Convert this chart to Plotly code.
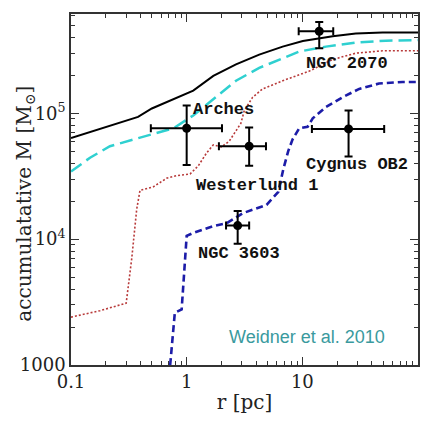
import numpy as np
import plotly.graph_objects as go

# Cumulative mass profiles M(<r) for the model clusters
r_solid = [0.1, 0.38, 0.50, 0.77, 1.14, 1.70, 2.67, 4.24, 6.76, 10.1, 18.3, 29, 49.4, 100]
m_solid = [6.35e4, 9.35e4, 1.09e5, 1.30e5, 1.51e5, 1.98e5, 2.44e5, 2.92e5, 3.38e5, 3.74e5, 4.09e5, 4.30e5, 4.37e5, 4.37e5]

r_cyan = [0.1, 0.146, 0.217, 0.345, 0.55, 0.77, 1.14, 1.70, 2.67, 4.24, 6.76, 9.4, 16, 29, 52.8, 100]
m_cyan = [3.44e4, 4.43e4, 5.47e4, 6.17e4, 7.03e4, 7.6e4, 9.6e4, 1.30e5, 1.81e5, 2.29e5, 2.74e5, 3.09e5, 3.38e5, 3.64e5, 3.77e5, 3.81e5]

r_dot = [0.1, 0.178, 0.30, 0.335, 0.37, 0.395, 0.514, 0.67, 0.82, 1.07, 1.26, 1.49, 1.70,
         2.0, 2.33, 2.94, 3.15, 3.72, 4.54, 6.76, 11.5, 18.3, 29, 49.4, 100]
m_dot = [2.4e3, 2.7e3, 3.1e3, 7.0e3, 1.73e4, 2.44e4, 2.6e4, 3.04e4, 3.19e4, 3.29e4, 3.82e4, 4.85e4, 5.6e4,
         5.4e4, 5.98e4, 8.3e4, 1.05e5, 1.34e5, 1.56e5, 1.81e5, 2.16e5, 2.67e5, 3.0e5, 3.13e5, 3.13e5]

r_blue = [0.72, 0.79, 0.905, 1.0, 1.14, 1.70, 2.22, 3.08, 4.91, 6.2, 6.85, 7.55, 8.24, 9.4, 11.1,
          12.3, 16, 22.3, 31, 46, 73.6, 96]
m_blue = [1.0e3, 2.6e3, 2.76e3, 1.06e4, 1.12e4, 1.27e4, 1.34e4, 1.61e4, 1.87e4, 2.37e4, 3.6e4, 5.0e4, 6.2e4, 7.6e4, 7.8e4,
          9.1e4, 1.12e5, 1.34e5, 1.56e5, 1.72e5, 1.77e5, 1.77e5]

# Observed young massive clusters with their ranges
clusters = ["NGC 2070", "Arches", "Westerlund 1", "Cygnus OB2", "NGC 3603"]
r_obs = [14.0, 1.0, 3.47, 25.1, 2.76]
r_lo = [9.3, 0.49, 1.9, 12.1, 2.19]
r_hi = [18.5, 2.02, 4.85, 51.0, 3.47]
m_obs = [4.48e5, 7.6e4, 5.47e4, 7.5e4, 1.28e4]
m_lo = [3.28e5, 3.87e4, 3.82e4, 4.52e4, 9.2e3]
m_hi = [5.3e5, 1.15e5, 7.7e4, 1.05e5, 1.67e4]

# Label anchor positions (data coordinates) for the cluster names
label_r = [24.5, 2.1, 4.05, 29.5, 2.85]
label_m = [2.5e5, 1.08e5, 2.65e4, 3.94e4, 7.7e3]

x_ticks = [0.1, 1, 10, 100]
x_ticktext = ["0.1", "1", "10", "100"]
y_ticks = [1000, 1e4, 1e5]
y_ticktext = ["1000", "10<sup>4</sup>", "10<sup>5</sup>"]

fig = go.Figure()
fig.add_trace(go.Scatter(x=r_solid, y=m_solid, mode="lines",
                         line=dict(color="black", width=2)))
fig.add_trace(go.Scatter(x=r_cyan, y=m_cyan, mode="lines",
                         line=dict(color="#2fd0d0", width=2.5, dash="13px,6px")))
fig.add_trace(go.Scatter(x=r_dot, y=m_dot, mode="lines",
                         line=dict(color="#b83a3a", width=1.6, dash="2px,2px")))
fig.add_trace(go.Scatter(x=r_blue, y=m_blue, mode="lines",
                         line=dict(color="#1c1ca8", width=2.6, dash="7px,4px")))

fig.add_trace(go.Scatter(
    x=r_obs, y=m_obs, mode="markers",
    marker=dict(color="black", size=9),
    error_x=dict(type="data", symmetric=False,
                 array=[h - v for h, v in zip(r_hi, r_obs)],
                 arrayminus=[v - l for v, l in zip(r_obs, r_lo)],
                 color="black", thickness=2, width=4),
    error_y=dict(type="data", symmetric=False,
                 array=[h - v for h, v in zip(m_hi, m_obs)],
                 arrayminus=[v - l for v, l in zip(m_obs, m_lo)],
                 color="black", thickness=2, width=4),
))

for name, lx, ly in zip(clusters, label_r, label_m):
    fig.add_annotation(x=np.log10(lx), y=np.log10(ly), text="<b>" + name + "</b>",
                       showarrow=False, xanchor="center", yanchor="middle",
                       font=dict(family="Liberation Mono", size=17, color="#111111"))

fig.add_annotation(x=np.log10(11.0), y=np.log10(1.68e3), text="Weidner et al. 2010",
                   showarrow=False, xanchor="center", yanchor="middle",
                   font=dict(family="Liberation Sans", size=18, color="#3a9a9e"))

fig.add_annotation(xref="paper", yref="paper", x=-0.135, y=0.46, textangle=-90,
                   text="accumulatative M [M<sub>⊙</sub>]", showarrow=False,
                   xanchor="center", yanchor="middle",
                   font=dict(family="DejaVu Serif", size=20, color="#222222"))

minor_x = [m * 10.0 ** k for k in range(-1, 2) for m in range(2, 10)]
minor_y = [m * 10.0 ** k for k in range(3, 6) for m in range(2, 10)]

axis_common = dict(showline=True, linecolor="#333333", linewidth=1.6, mirror="allticks",
                   ticks="inside", ticklen=8, tickwidth=1.2, tickcolor="#333333",
                   showgrid=False, zeroline=False,
                   tickfont=dict(family="DejaVu Serif", size=18, color="#222222"))

fig.update_xaxes(type="log", range=[-1, 2], tickvals=x_ticks, ticktext=x_ticktext,
                 minor=dict(tickmode="array", tickvals=minor_x, ticks="inside", ticklen=4,
                            tickcolor="#333333", tickwidth=1),
                 title=dict(text="r [pc]", font=dict(family="DejaVu Serif", size=20, color="#222222"),
                            standoff=4),
                 **axis_common)
fig.update_yaxes(type="log", range=[3, 5.788], tickvals=y_ticks, ticktext=y_ticktext,
                 minor=dict(tickmode="array", tickvals=minor_y, ticks="inside", ticklen=4,
                            tickcolor="#333333", tickwidth=1),
                 **axis_common)

fig.update_layout(width=432, height=422, showlegend=False,
                  margin=dict(l=71, r=14, t=12, b=52),
                  paper_bgcolor="white", plot_bgcolor="white")

fig.write_html("out.html")
